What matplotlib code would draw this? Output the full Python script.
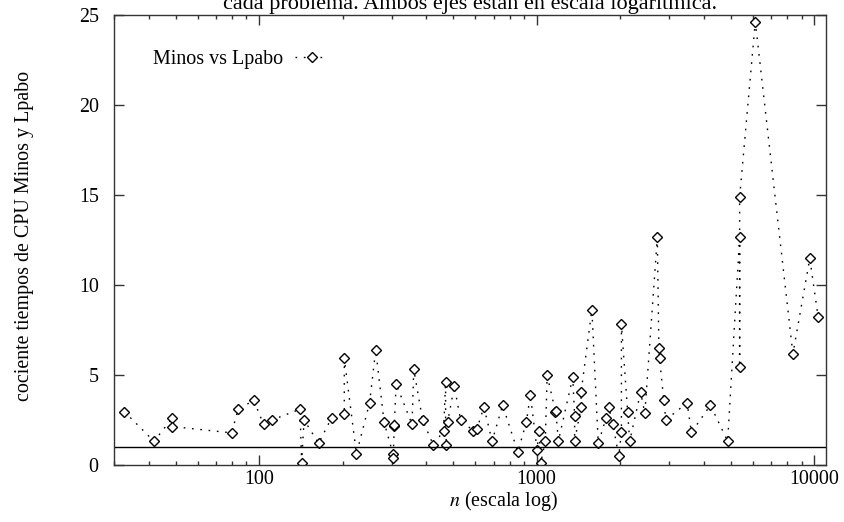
import numpy as np
import matplotlib
matplotlib.use('Agg')
import matplotlib.pyplot as plt
from matplotlib import ticker

plt.rcParams['font.family'] = ['Liberation Serif', 'DejaVu Serif']
plt.rcParams['mathtext.fontset'] = 'stix'

# problem size n and CPU-time ratio Minos / Lpabo
n_vals = [32.7, 41.8, 48.7, 48.7, 79.6, 84.1, 95.7, 103.7, 111.4, 140.3,
          142.3, 145.2, 163.8, 182.4, 202.7, 202.7, 224.2, 250, 263.1, 282,
          304, 304, 307, 307, 311.6, 355.6, 360.7, 388, 424.7, 462,
          469.7, 470, 477.7, 505, 532, 589, 610, 645.5, 691, 754,
          855, 918, 949, 1003, 1019, 1035, 1074, 1091, 1169, 1172,
          1197, 1349, 1370, 1370, 1446, 1446, 1581, 1667, 1781, 1817,
          1881, 1976, 2020, 2020, 2127, 2163, 2369, 2453, 2721, 2756,
          2772, 2871, 2920, 3483, 3611, 4227, 4877, 5386, 5386, 5386,
          6134, 8378, 9640, 10330]
ratio = [2.94, 1.29, 2.59, 2.11, 1.76, 3.09, 3.56, 2.24, 2.48, 3.07,
         0.11, 2.48, 1.18, 2.59, 2.83, 5.91, 0.59, 3.43, 6.37, 2.35,
         0.56, 0.37, 2.13, 2.22, 4.48, 2.24, 5.30, 2.48, 1.07, 1.89,
         4.61, 1.07, 2.35, 4.35, 2.48, 1.89, 2.00, 3.20, 1.30, 3.30,
         0.70, 2.35, 3.89, 0.81, 1.89, 0.11, 1.30, 4.96, 2.93, 3.00,
         1.30, 4.85, 2.72, 1.30, 3.20, 4.03, 8.61, 1.18, 2.61, 3.20,
         2.24, 0.47, 1.78, 7.80, 2.94, 1.30, 4.02, 2.85, 12.63, 6.48,
         5.90, 3.56, 2.48, 3.43, 1.78, 3.30, 1.30, 12.63, 5.44, 14.87,
         24.63, 6.15, 11.46, 8.20]

x_ticks = [100, 1000, 10000]
y_ticks = [0, 5, 10, 15, 20, 25]

fig = plt.figure(figsize=(8.45, 5.22), dpi=100)
ax = fig.add_axes([114 / 845, 57.5 / 522, 711.7 / 845, 449.5 / 522])

ax.plot(n_vals, ratio, color='black', lw=1.0, linestyle=(0, (1.2, 4.8)),
        marker='D', markersize=5, markerfacecolor='white',
        markeredgecolor='black', markeredgewidth=1.0,
        label='Minos vs Lpabo')
ax.axhline(1, color='black', lw=1.0)

ax.set_xscale('log')
ax.set_xlim(30, 11000)
ax.set_ylim(0, 25)
ax.set_xticks(x_ticks)
ax.xaxis.set_major_formatter(ticker.FuncFormatter(lambda v, p: f'{v:g}'))
ax.xaxis.set_minor_locator(ticker.LogLocator(base=10, subs=np.arange(2, 10)))
ax.xaxis.set_minor_formatter(ticker.NullFormatter())
ax.set_yticks(y_ticks)

ax.tick_params(which='both', direction='in', top=True, right=True,
               labelsize=14.4, color='#333333')
ax.tick_params(which='major', length=7.2, width=1.0)
ax.tick_params(which='minor', length=3, width=1.0)
ax.tick_params(axis='x', pad=4)
ax.tick_params(axis='y', pad=11)
for s in ax.spines.values():
    s.set_linewidth(1.0)
    s.set_color('#333333')

ax.set_xlabel(r'$n$ (escala log)', fontsize=14.4, va='center')
ax.xaxis.set_label_coords((503 - 114) / 711.7, -(501 - 464.5) / 449.5)
ax.set_ylabel('cociente tiempos de CPU Minos y Lpabo', fontsize=14.4, va='center')
ax.yaxis.set_label_coords(-(114 - 25) / 711.7, (464.5 - 236) / 449.5)

ax.legend(loc='center left', bbox_to_anchor=((153 - 114) / 711.7, (464.5 - 60) / 449.5),
          frameon=False, markerfirst=False, numpoints=1, fontsize=14.4,
          handlelength=1.65, handletextpad=0.6, borderpad=0, borderaxespad=0)

# caption line, clipped at the top edge as in the original
fig.text(717 / 845, 1 - 9 / 522,
         'cada problema. Ambos ejes están en escala logarítmica.',
         ha='right', va='baseline', fontsize=16)

fig.savefig('out.png', dpi=100)
